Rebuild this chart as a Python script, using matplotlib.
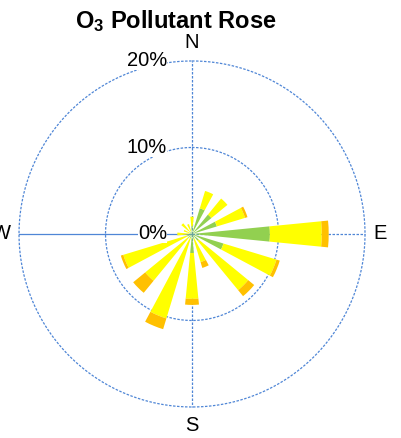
import numpy as np
import matplotlib
matplotlib.use("Agg")
import matplotlib.pyplot as plt

plt.rcParams["font.family"] = ["Liberation Sans", "DejaVu Sans"]
plt.rcParams["mathtext.fontset"] = "custom"
plt.rcParams["mathtext.rm"] = "Liberation Sans"
plt.rcParams["mathtext.bf"] = "Liberation Sans:bold"

# wind directions, clockwise from north
directions = ["N", "NNE", "NE", "ENE", "E", "ESE", "SE", "SSE",
              "S", "SSW", "SW", "WSW", "W", "WNW", "NW", "NNW"]
# frequency (%) per concentration band, stacked outward
green = [0.9, 3.1, 2.9, 3.0, 9.0, 3.8, 1.0, 0.6, 2.2, 0.5, 0.6, 0.6, 0.3, 0.3, 0.4, 0.3]
yellow = [1.1, 2.1, 2.4, 3.4, 6.0, 6.4, 7.4, 2.8, 5.3, 9.7, 6.4, 7.7, 1.4, 0.7, 1.2, 0.9]
orange = [0.0, 0.0, 0.0, 0.3, 0.8, 0.4, 0.9, 0.7, 0.7, 1.3, 1.8, 0.3, 0.0, 0.0, 0.0, 0.0]
rings = [10, 20]
ring_labels = ["0%", "10%", "20%"]
compass = ["N", "E", "S", "W"]

grid_c = "#4F86D6"

fig = plt.figure(figsize=(4.02, 4.38), dpi=100)
ax = fig.add_axes([0.0473, 0.0708, 0.8607, 0.79], projection="polar")
ax.set_theta_zero_location("N")
ax.set_theta_direction(-1)
ax.set_ylim(0, 20)
ax.axis("off")

# grid circles and spokes
t = np.linspace(0, 2 * np.pi, 400)
for r in rings:
    ax.plot(t, np.full_like(t, r), color=grid_c, lw=0.9, ls=(0, (2, 1.2)),
            clip_on=False, zorder=1)
for ang in [0, 90, 180, 270]:
    ls = "-" if ang == 270 else (0, (2, 1.2))
    ax.plot([0, np.deg2rad(ang)], [0, 20], color=grid_c, lw=0.9, ls=ls,
            clip_on=False, zorder=1)

theta = np.deg2rad(np.arange(len(directions)) * 22.5)
width = np.deg2rad(11.25)
g = np.array(green)
y = np.array(yellow)
o = np.array(orange)
ax.bar(theta, g, width=width, color="#92D050", zorder=2)
ax.bar(theta, y, width=width, bottom=g, color="#FFFF00", zorder=2)
ax.bar(theta, o, width=width, bottom=g + y, color="#FFC000", zorder=2)

# radial labels
for r, lab in zip([0] + rings, ring_labels):
    ax.annotate(lab, xy=(0, r), xytext=(-18, 0), textcoords="offset points",
                ha="right", va="center", fontsize=14.5, zorder=3,
                bbox=dict(facecolor="white", edgecolor="none", pad=0))

# compass labels
offsets = [(0, 13), (11, 0), (0, -13), (-13, 0)]
for ang, lab, off in zip([0, 90, 180, 270], compass, offsets):
    ax.annotate(lab, xy=(np.deg2rad(ang), 20), xytext=off,
                textcoords="offset points", ha="center", va="center",
                fontsize=14.5, annotation_clip=False)

fig.text(0.438, 1 - 21 / 438, r"$\mathbf{O_3}$ Pollutant Rose",
         ha="center", va="center", fontsize=17, fontweight="bold")

fig.savefig("out.png", dpi=100)
